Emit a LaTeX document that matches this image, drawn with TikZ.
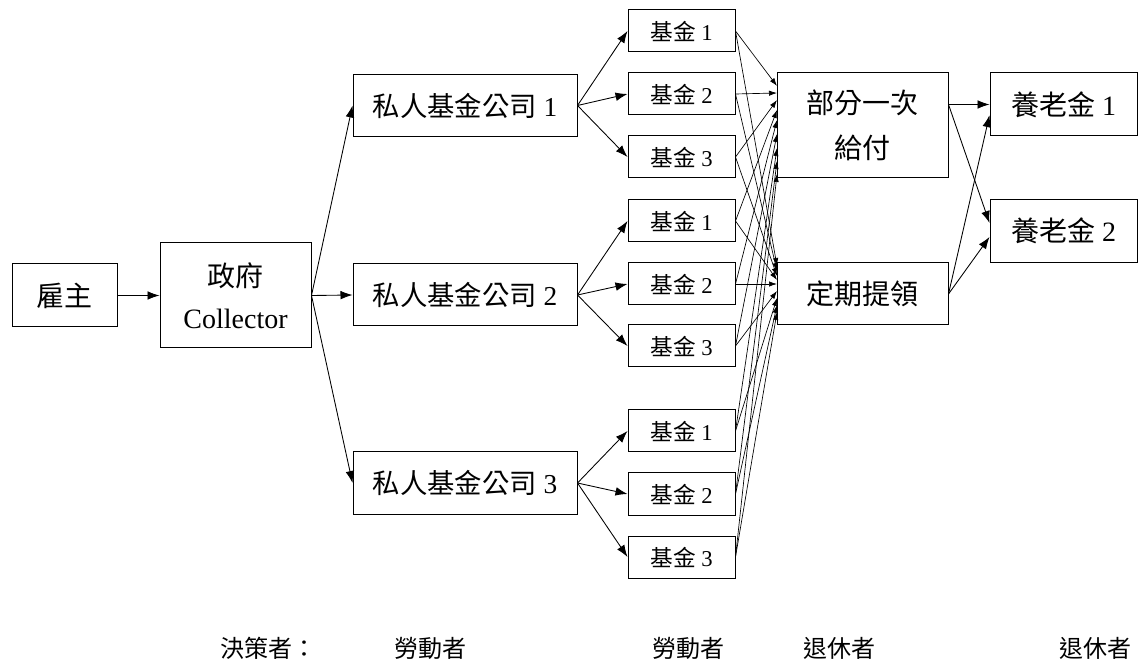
\documentclass[tikz,border=0pt]{standalone}
\usepackage{fontspec}
\setmainfont{Liberation Serif}
\newfontfamily\cjk{Noto Sans CJK TC}
\usetikzlibrary{arrows.meta}
\begin{document}
\begin{tikzpicture}[x=0.75pt,y=-0.75pt,
  box/.style={draw,line width=0.75pt,inner sep=0pt,align=center},
  big/.style={font=\fontsize{21}{31.5}\selectfont},
  comp/.style={box,minimum width=168pt,minimum height=46.5pt,font=\fontsize{20.5}{24}\selectfont},
  fund/.style={box,minimum width=80.25pt,minimum height=31.5pt,font=\fontsize{17}{20}\selectfont},
  pen/.style={box,big,minimum width=110.25pt,minimum height=47.25pt},
  lbl/.style={font=\cjk\fontsize{18}{20}\selectfont,inner sep=0pt},
  arr/.style={line width=0.65pt,-{Latex[length=9pt,width=6.5pt]}},
  fin/.style={line width=0.5pt,-{Latex[length=6pt,width=4pt]}}]
\useasboundingbox (0,0) rectangle (1139,666);

% nodes
\node[box,big,minimum width=78.75pt,minimum height=47.25pt] (emp) at (64.5,295.5) {\cjk 雇主};
\node[box,big,minimum width=113.25pt,minimum height=78.75pt] (gov) at (235.5,295.5) {{\cjk 政府}\\Collector};

\node[comp] (c1) at (465,105.5) {{\cjk 私人基金公司} 1};
\node[comp] (c2) at (465,295) {{\cjk 私人基金公司} 2};
\node[comp] (c3) at (465,483) {{\cjk 私人基金公司} 3};

\node[fund] (f1) at (681.5,31) {{\cjk 基金} 1};
\node[fund] (f2) at (681.5,94) {{\cjk 基金} 2};
\node[fund] (f3) at (681.5,157) {{\cjk 基金} 3};
\node[fund] (f4) at (681.5,221) {{\cjk 基金} 1};
\node[fund] (f5) at (681.5,284) {{\cjk 基金} 2};
\node[fund] (f6) at (681.5,346) {{\cjk 基金} 3};
\node[fund] (f7) at (681.5,431) {{\cjk 基金} 1};
\node[fund] (f8) at (681.5,494) {{\cjk 基金} 2};
\node[fund] (f9) at (681.5,557) {{\cjk 基金} 3};

\node[box,minimum width=128.25pt,minimum height=78.75pt,font=\fontsize{21}{34}\selectfont] (lump) at (862.5,125.5) {{\cjk 部分一次}\\{\cjk 給付}};
\node[box,big,minimum width=128.25pt,minimum height=46.5pt] (period) at (862.5,294) {\cjk 定期提領};

\node[pen] (p1) at (1063.5,104.5) {{\cjk 養老金} 1};
\node[pen] (p2) at (1063.5,231) {{\cjk 養老金} 2};

% bottom labels
\node[lbl,anchor=west] (d0) at (220,648) {決策者：};
\node[lbl] (d1) at (430,648) {勞動者};
\node[lbl] (d2) at (688,648) {勞動者};
\node[lbl] (d3) at (839,648) {退休者};
\node[lbl] (d4) at (1095,648) {退休者};

% connectors
\draw[arr] (emp.east) -- (gov.west);
\draw[arr] (gov.east) -- (c1.west);
\draw[arr] (gov.east) -- (c2.west);
\draw[arr] (gov.east) -- (c3.west);

\draw[arr] (c1.east) -- (f1.west);
\draw[arr] (c1.east) -- (f2.west);
\draw[arr] (c1.east) -- (f3.west);
\draw[arr] (c2.east) -- (f4.west);
\draw[arr] (c2.east) -- (f5.west);
\draw[arr] (c2.east) -- (f6.west);
\draw[arr] (c3.east) -- (f7.west);
\draw[arr] (c3.east) -- (f8.west);
\draw[arr] (c3.east) -- (f9.west);

% fan-in tip points on the left edges
\coordinate (a1) at (777,86);
\coordinate (a2) at (777,93);
\coordinate (a3) at (777,100);
\coordinate (a4) at (777,110);
\coordinate (a5) at (777,120);
\coordinate (a6) at (777,134);
\coordinate (a7) at (777,148);
\coordinate (a8) at (777,161);
\coordinate (a9) at (777,174);
\coordinate (b1) at (777,266);
\coordinate (b2) at (777,271);
\coordinate (b3) at (777,276);
\coordinate (b4) at (777,280);
\coordinate (b5) at (777,284);
\coordinate (b6) at (777,291);
\coordinate (b7) at (777,298);
\coordinate (b8) at (777,305);
\coordinate (b9) at (777,312);
\foreach \i in {1,...,9}{
  \draw[fin] (f\i.east) -- (a\i);
  \draw[fin] (f\i.east) -- (b\i);
}

\draw[arr] (lump.east |- p1) -- (p1.west);
\draw[arr] (lump.east |- p1) -- ([yshift=6pt]p2.west);
\draw[arr] (period.east) -- ([yshift=-8pt]p1.west);
\draw[arr] (period.east) -- ([yshift=-4.5pt]p2.west);
\end{tikzpicture}
\end{document}
